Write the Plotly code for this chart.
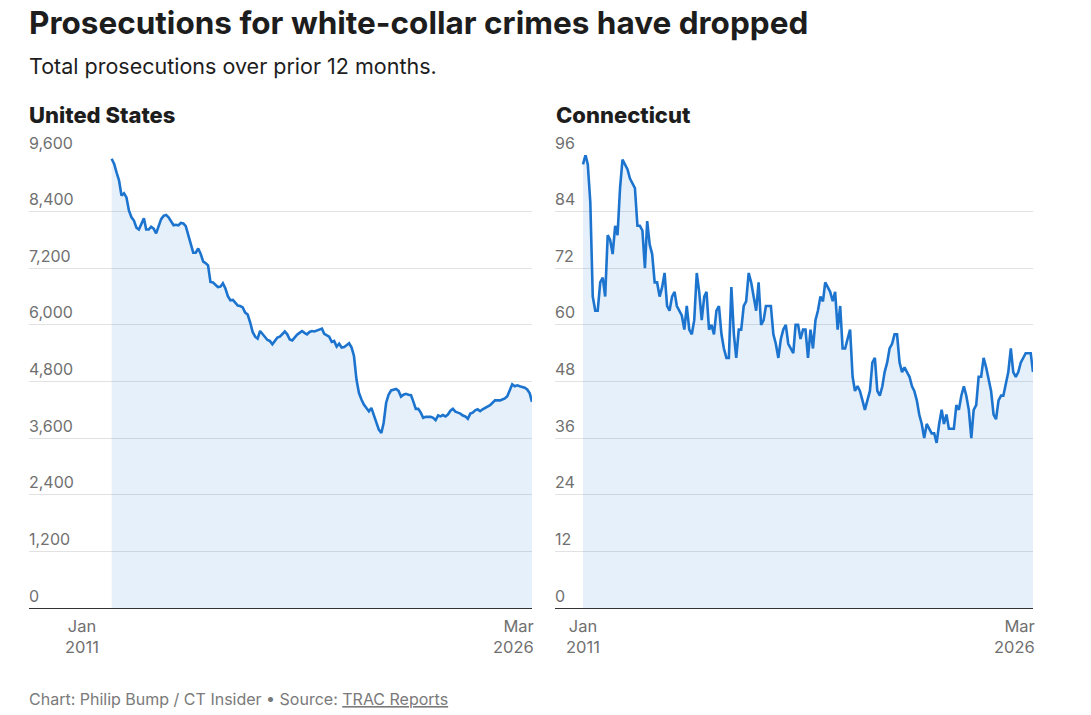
import plotly.graph_objects as go
import pandas as pd

# ---------------- data ----------------
us_values = [
    9520, 9410, 9230, 9060, 8740, 8790, 8700, 8420, 8280, 8210,
    8060, 8020, 8140, 8260, 8020, 8020, 8080, 8040, 7940, 8090,
    8240, 8310, 8330, 8280, 8190, 8110, 8120, 8110, 8160, 8150,
    8090, 7890, 7710, 7530, 7530, 7620, 7500, 7340, 7310, 7260,
    6910, 6900, 6850, 6800, 6810, 6880, 6770, 6610, 6520, 6530,
    6470, 6410, 6400, 6370, 6260, 6220, 6050, 5850, 5750, 5710,
    5870, 5800, 5730, 5680, 5660, 5590, 5660, 5730, 5750, 5800,
    5860, 5800, 5690, 5670, 5730, 5790, 5830, 5870, 5830, 5800,
    5850, 5870, 5860, 5880, 5900,
    5920, 5810, 5780, 5750, 5640, 5660, 5540, 5600, 5520, 5530,
    5570, 5610, 5520, 5340, 4840, 4560, 4420, 4310, 4240, 4170,
    4240, 4080, 3920, 3780, 3710, 3920, 4350, 4520, 4610, 4630,
    4640, 4600, 4480, 4520, 4540, 4520, 4510, 4380, 4220, 4220,
    4140, 4030, 4050, 4050, 4050, 4030, 3980, 4080, 4060, 4090,
    4060, 4100, 4180, 4220, 4160, 4140, 4120, 4080, 4060, 4010,
    4120, 4140, 4190, 4210, 4170, 4210, 4240, 4260, 4300, 4350,
    4400, 4400, 4400, 4420, 4440, 4490, 4620, 4740, 4700, 4720,
    4700, 4680, 4670, 4630, 4550, 4370,
]

ct_values = [
    94, 96, 94, 86, 66, 63, 63, 69, 70, 66,
    79, 78, 75, 81, 79, 89, 95, 94, 93, 91,
    90, 89, 81, 81, 80, 72, 82, 77, 75, 69,
    69, 66, 68, 71, 64, 63, 66, 67, 64, 63,
    62, 59, 64, 59, 58, 61, 71, 67, 61, 66,
    67, 59, 60, 58, 63, 64, 58, 55, 53, 53,
    68, 58, 53, 59, 59, 64, 65, 71, 69, 66,
    63, 69, 60, 61, 64, 64, 64, 58, 56, 53,
    57, 59, 60, 56, 55, 54, 60, 60, 57, 59,
    59,
    53, 59, 55, 61, 63, 66, 65, 69, 68, 67,
    65, 67, 59, 64, 55, 55, 57, 59, 49, 46,
    47, 46, 44, 42, 44, 46, 52, 53, 46, 45,
    47, 50, 52, 55, 56, 58, 58, 52, 50, 51,
    50, 49, 47, 46, 44, 41, 39, 36, 39, 38,
    37, 37, 35, 39, 42, 39, 41, 38, 38, 38,
    43, 42, 45, 47, 45, 42, 36, 42, 43, 49,
    49, 53, 51, 48, 46, 41, 40, 44, 45, 45,
    48, 50, 55, 50, 49, 50, 52, 53, 54, 54,
    54, 50,
]

last_month = "2026-03-01"
first_tick = "2011-01-01"
us_ticks = [0, 1200, 2400, 3600, 4800, 6000, 7200, 8400, 9600]
ct_ticks = [0, 12, 24, 36, 48, 60, 72, 84, 96]
x_tick_labels = ["Jan<br>2011", "Mar<br>2026"]

title = "Prosecutions for white-collar crimes have dropped"
subtitle = "Total prosecutions over prior 12 months."
panel_titles = ["United States", "Connecticut"]
footer = "Chart: Philip Bump / CT Insider • Source: <u>TRAC Reports</u>"

us_dates = pd.date_range(end=last_month, periods=len(us_values), freq="MS")
ct_dates = pd.date_range(end=last_month, periods=len(ct_values), freq="MS")

# ---------------- style ----------------
W, H = 1091, 715
FONT = "Inter"
LINE = "#1c74cf"
FILL = "rgba(28,116,207,0.11)"
GRAY = "#707070"
DARK = "#1d1d1d"
GRID = "#e2e2e2"


def px_x(p):
    return p / W


def px_y(p):
    return 1 - p / H


t0 = pd.Timestamp(first_tick)
t1 = pd.Timestamp(last_month)
px_per_day = 450 / (t1 - t0).days
us_start = t0 - pd.Timedelta(days=(82 - 29) / px_per_day)
ct_start = t0 - pd.Timedelta(days=(583 - 555) / px_per_day)

ydom = [px_y(608), px_y(155)]

fig = go.Figure()
fig.add_trace(go.Scatter(
    x=us_dates, y=us_values, mode="lines",
    line=dict(color=LINE, width=2.6), fill="tozeroy", fillcolor=FILL,
    xaxis="x", yaxis="y", hoverinfo="skip", showlegend=False))
fig.add_trace(go.Scatter(
    x=ct_dates, y=ct_values, mode="lines",
    line=dict(color=LINE, width=2.6), fill="tozeroy", fillcolor=FILL,
    xaxis="x2", yaxis="y2", hoverinfo="skip", showlegend=False))

common_x = dict(showgrid=False, showticklabels=False, showline=True,
                linecolor="#333333", linewidth=1, ticks="", zeroline=False,
                type="date", automargin=False)
common_y = dict(showgrid=True, gridcolor=GRID, gridwidth=1, zeroline=False,
                showline=False, ticks="", ticklabelposition="inside",
                ticklabelshift=-12, ticklabelstandoff=-3,
                ticklabeloverflow="allow", automargin=False,
                tickfont=dict(family=FONT, size=16, color=GRAY))

fig.update_layout(
    width=W, height=H,
    margin=dict(l=0, r=0, t=0, b=0, pad=0, autoexpand=False),
    paper_bgcolor="white", plot_bgcolor="white",
    font=dict(family=FONT, color=DARK),
    xaxis=dict(domain=[px_x(29), px_x(532)], range=[us_start, t1],
               anchor="y", **common_x),
    yaxis=dict(domain=ydom, range=[0, 9600], anchor="x",
               tickvals=us_ticks, ticktext=[f"{v:,}" for v in us_ticks],
               **common_y),
    xaxis2=dict(domain=[px_x(555), px_x(1033)], range=[ct_start, t1],
                anchor="y2", **common_x),
    yaxis2=dict(domain=ydom, range=[0, 96], anchor="x2",
                tickvals=ct_ticks, ticktext=[str(v) for v in ct_ticks],
                **common_y),
)

ann = []
ann.append(dict(text=f"<b>{title}</b>", x=px_x(27), y=px_y(23), xref="paper",
                yref="paper", xanchor="left", yanchor="middle", showarrow=False,
                font=dict(family=FONT, size=31.5, color=DARK)))
ann.append(dict(text=subtitle, x=px_x(27), y=px_y(66), xref="paper",
                yref="paper", xanchor="left", yanchor="middle", showarrow=False,
                font=dict(family=FONT, size=21.5, color=DARK)))
for name, xp in zip(panel_titles, [27, 554]):
    ann.append(dict(text=name, x=px_x(xp), y=px_y(115),
                    xref="paper", yref="paper", xanchor="left",
                    yanchor="middle", showarrow=False,
                    font=dict(family=FONT, size=22, color=DARK, weight=800)))
for xr in ["x", "x2"]:
    ann.append(dict(text=x_tick_labels[0], x=t0, y=px_y(614), xref=xr,
                    yref="paper", xanchor="center", yanchor="top",
                    showarrow=False, align="center",
                    font=dict(family=FONT, size=16.5, color=GRAY)))
    ann.append(dict(text=x_tick_labels[1], x=t1, y=px_y(614), xref=xr,
                    yref="paper", xanchor="right", yanchor="top", xshift=4,
                    showarrow=False, align="right",
                    font=dict(family=FONT, size=16.5, color=GRAY)))
ann.append(dict(text=footer, x=px_x(27), y=px_y(699), xref="paper",
                yref="paper", xanchor="left", yanchor="middle", showarrow=False,
                font=dict(family=FONT, size=16, color="#7a7a7a")))
fig.update_layout(annotations=ann)

fig.write_html(
    "out.html",
    config={"responsive": False, "displayModeBar": False},
    post_script="document.body.style.margin='0';"
                "document.body.style.overflow='hidden';",
)
